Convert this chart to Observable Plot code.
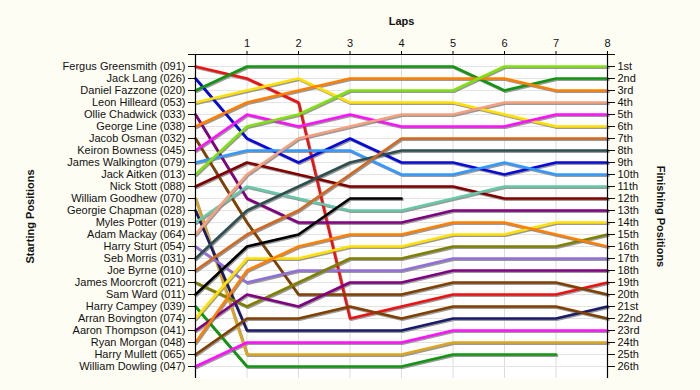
<!DOCTYPE html>
<html>
<head>
<meta charset="utf-8">
<script src="https://cdn.jsdelivr.net/npm/d3@7"></script>
<script src="https://cdn.jsdelivr.net/npm/@observablehq/plot@0.6"></script>
<style>
  html, body { margin: 0; padding: 0; background: #fdfdf4; }
</style>
</head>
<body>
<div id="chart"></div>
<script>
// Drivers in starting order
const drivers = [
  "Fergus Greensmith (091)", "Jack Lang (026)", "Daniel Fazzone (020)", "Leon Hilleard (053)",
  "Ollie Chadwick (033)", "George Line (038)", "Jacob Osman (032)", "Keiron Bowness (045)",
  "James Walkington (079)", "Jack Aitken (013)", "Nick Stott (088)", "William Goodhew (070)",
  "Georgie Chapman (028)", "Myles Potter (019)", "Adam Mackay (064)", "Harry Sturt (054)",
  "Seb Morris (031)", "Joe Byrne (010)", "James Moorcroft (021)", "Sam Ward (011)",
  "Harry Campey (039)", "Arran Bovington (074)", "Aaron Thompson (041)", "Ryan Morgan (048)",
  "Harry Mullett (065)", "William Dowling (047)"
];

const driverColors = [
  "#ee1111", "#0a0ad8", "#129612", "#ffe000",
  "#800080", "#ff8000", "#804000", "#ff10ff",
  "#3399ff", "#80e010", "#800000", "#daa520",
  "#1a1a6a", "#66c8a8", "#f4a080", "#9070d8",
  "#2f4f4f", "#d2691e", "#808000", "#000000",
  "#129612", "#ffe000", "#800080", "#ff8000",
  "#804000", "#ff10ff"
];

// Position at laps 0..8 (null = not running)
const lapPositions = [
  [1, 2, 4, 22, 21, 20, 20, 20, 19],
  [2, 7, 9, 7, 9, 9, 10, 9, 9],
  [3, 1, 1, 1, 1, 1, 3, 2, 2],
  [4, 3, 2, 4, 4, 4, 5, 6, 6],
  [5, 12, 14, 14, 14, 13, 13, 13, 13],
  [6, 4, 3, 2, 2, 2, 2, 3, 3],
  [7, 14, 20, 20, 20, 19, 19, 19, 20],
  [8, 5, 6, 5, 6, 6, 6, 5, 5],
  [9, 8, 8, 8, 10, 10, 9, 10, 10],
  [10, 6, 5, 3, 3, 3, 1, 1, 1],
  [11, 9, 10, 11, 11, 11, 12, 12, 12],
  [12, 25, 25, 25, 25, 24, 24, 24, 24],
  [13, 23, 23, 23, 23, 22, 22, 22, 21],
  [14, 11, 12, 13, 13, 12, 11, 11, 11],
  [15, 10, 7, 6, 5, 5, 4, 4, 4],
  [16, 19, 18, 18, 18, 17, 17, 17, 17],
  [17, 13, 11, 9, 8, 8, 8, 8, 8],
  [18, 15, 13, 10, 7, 7, 7, 7, 7],
  [19, 21, 19, 17, 17, 16, 16, 16, 15],
  [20, 16, 15, 12, 12, null, null, null, null],
  [21, 26, 26, 26, 26, 25, 25, 25, null],
  [22, 17, 17, 16, 16, 15, 15, 14, 14],
  [23, 20, 21, 19, 19, 18, 18, 18, 18],
  [24, 18, 16, 15, 15, 14, 14, 15, 16],
  [25, 22, 22, 21, 22, 21, 21, 21, 22],
  [26, 24, 24, 24, 24, 23, 23, 23, 23]
];

const laps = [0, 1, 2, 3, 4, 5, 6, 7, 8];
const lapTicks = [1, 2, 3, 4, 5, 6, 7, 8];
const finishLabels = ["1st","2nd","3rd","4th","5th","6th","7th","8th","9th","10th","11th","12th","13th",
  "14th","15th","16th","17th","18th","19th","20th","21st","22nd","23rd","24th","25th","26th"];

const rows = [];
lapPositions.forEach((ps, i) => {
  ps.forEach((p, lap) => {
    if (p != null) rows.push({driver: drivers[i], idx: i, lap, pos: p});
  });
});

const posTicks = d3.range(0, 27);

const chart = Plot.plot({
  width: 700,
  height: 390,
  marginLeft: 195,
  marginRight: 93,
  marginTop: 54,
  marginBottom: 12,
  style: {fontFamily: "'Liberation Sans', Arial, sans-serif", fontSize: "11px", background: "#fdfdf4", color: "#111"},
  x: {domain: [0, 8]},
  y: {domain: [0, 27], reverse: true},
  color: {domain: drivers, range: driverColors},
  marks: [
    Plot.frame({fill: "white", stroke: null}),
    Plot.gridX(laps, {stroke: "#dcdcdc", strokeOpacity: 1}),
    Plot.gridY(d3.range(1, 27), {stroke: "#e4e4e4", strokeOpacity: 1}),
    // shadows
    Plot.line(rows, {x: "lap", y: "pos", z: "driver", stroke: "#808080", strokeWidth: 2.7, dx: 1, dy: 1.2, strokeOpacity: 0.8}),
    Plot.line(rows, {x: "lap", y: "pos", z: "driver", stroke: "driver", strokeWidth: 2.7}),
    Plot.ruleX([0, 8], {stroke: "black", strokeWidth: 1.2}),
    Plot.ruleY([0], {stroke: "black", strokeWidth: 1.2}),
    Plot.axisX(lapTicks, {anchor: "top", tickSize: 4, tickPadding: 4, label: null, fontSize: 11, stroke: "black"}),
    Plot.axisY(posTicks, {anchor: "left", tickSize: 7, tickPadding: 3, label: null, fontSize: 11,
      tickFormat: d => d >= 1 ? drivers[d - 1] : ""}),
    Plot.axisY(posTicks, {anchor: "right", tickSize: 7, tickPadding: 3, label: null, fontSize: 11,
      tickFormat: d => d >= 1 ? finishLabels[d - 1] : ""}),
    Plot.text(["Laps"], {frameAnchor: "top", dy: -37, fontWeight: "bold", fontSize: 11}),
    Plot.text(["Starting Positions"], {frameAnchor: "left", dx: -165, rotate: -90, textAnchor: "middle", fontWeight: "bold", fontSize: 11}),
    Plot.text(["Finishing Positions"], {frameAnchor: "right", dx: 53, rotate: 90, textAnchor: "middle", fontWeight: "bold", fontSize: 11})
  ]
});

document.getElementById("chart").appendChild(chart);
</script>
</body>
</html>
